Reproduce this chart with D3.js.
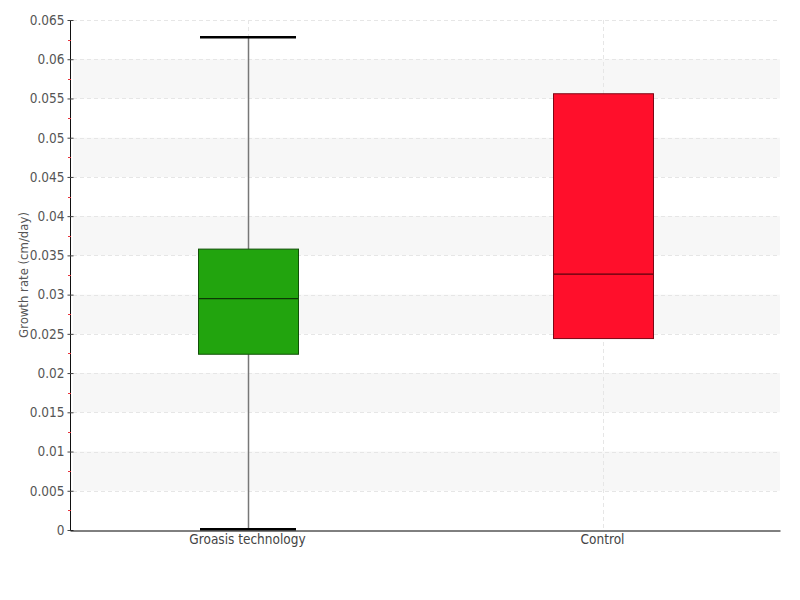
<!DOCTYPE html>
<html>
<head>
<meta charset="utf-8">
<script src="https://cdn.jsdelivr.net/npm/d3@7"></script>
<style>
  body { margin: 0; background: #fff; }
  text { font-family: "DejaVu Sans Condensed", "Liberation Sans Narrow", "Roboto", sans-serif; }
</style>
</head>
<body>
<svg id="chart" width="800" height="600"></svg>
<script>
// data
var categories = ["Groasis technology", "Control"];
var minValues = [0.0001, 0.0244];
var q1Values = [0.0224, 0.0244];
var medianValues = [0.0295, 0.0326];
var q3Values = [0.0358, 0.0556];
var maxValues = [0.0628, 0.0556];
var boxColors = ["#22a40e", "#ff0f2b"];
var yTicks = [0, 0.005, 0.01, 0.015, 0.02, 0.025, 0.03, 0.035, 0.04, 0.045, 0.05, 0.055, 0.06, 0.065];

var svg = d3.select("#chart");
var mLeft = 70, mRight = 780, mTop = 20, mBottom = 530;

var x = d3.scaleBand().domain(categories).range([mLeft, mRight]);
var y = d3.scaleLinear().domain([0, 0.065]).range([mBottom, mTop]);

// alternating bands
var bands = [];
for (var i = 1; i < yTicks.length - 1; i += 2) bands.push([yTicks[i], yTicks[i + 1]]);
svg.append("g").selectAll("rect").data(bands).enter().append("rect")
    .attr("x", mLeft + 3).attr("width", mRight - mLeft - 3)
    .attr("y", function (d) { return y(d[1]); })
    .attr("height", function (d) { return y(d[0]) - y(d[1]); })
    .attr("fill", "#f7f7f7");

// grid lines
svg.append("g").selectAll("line").data(yTicks.slice(1)).enter().append("line")
    .attr("x1", mLeft + 3).attr("x2", mRight - 3)
    .attr("y1", function (d) { return Math.round(y(d)) + 0.5; })
    .attr("y2", function (d) { return Math.round(y(d)) + 0.5; })
    .attr("stroke", "#e6e6e6").attr("stroke-dasharray", "4,3");
svg.append("g").selectAll("line").data(categories).enter().append("line")
    .attr("x1", function (d) { return Math.round(x(d) + x.bandwidth() / 2) + 0.5; })
    .attr("x2", function (d) { return Math.round(x(d) + x.bandwidth() / 2) + 0.5; })
    .attr("y1", mTop).attr("y2", mBottom)
    .attr("stroke", "#e6e6e6").attr("stroke-dasharray", "4,3");

// y axis
var yAxis = svg.append("g").attr("transform", "translate(" + (mLeft + 0.5) + ",0)")
    .call(d3.axisLeft(y).tickValues(yTicks).tickSize(3).tickPadding(3)
        .tickFormat(function (d) { return d3.format("~g")(+d.toFixed(3)); }));
yAxis.select(".domain").attr("stroke", "#111").attr("d", "M0," + mTop + "V" + mBottom);
yAxis.selectAll(".tick line").attr("stroke", "#444").attr("x2", 3).attr("x1", -3);
yAxis.selectAll(".tick text").attr("fill", "#555").style("font-size", "13.5px");

// minor red ticks
var minor = yTicks.slice(0, -1).map(function (d) { return d + 0.0025; });
svg.append("g").selectAll("line").data(minor).enter().append("line")
    .attr("x1", mLeft - 2).attr("x2", mLeft + 1)
    .attr("y1", function (d) { return Math.round(y(d)) + 0.5; })
    .attr("y2", function (d) { return Math.round(y(d)) + 0.5; })
    .attr("stroke", "#e8343c");

// x axis
var xAxis = svg.append("g").attr("transform", "translate(0," + (mBottom + 0.5) + ")")
    .call(d3.axisBottom(x).tickSize(0).tickPadding(4));
xAxis.select(".domain").attr("stroke", "#000");
xAxis.selectAll(".tick text").attr("fill", "#444").style("font-size", "13.5px");

// y label
svg.append("text")
    .attr("transform", "translate(28," + ((mTop + mBottom) / 2) + ") rotate(-90)")
    .attr("text-anchor", "middle")
    .attr("fill", "#555").style("font-size", "13px")
    .text("Growth rate (cm/day)");

// boxes
var boxW = 100;
var boxes = svg.append("g").selectAll("g").data(categories).enter().append("g");
boxes.each(function (d, i) {
    var g = d3.select(this);
    var cx = Math.round(x(d) + x.bandwidth() / 2);
    if (maxValues[i] > q3Values[i]) {
        g.append("line").attr("x1", cx + 0.5).attr("x2", cx + 0.5)
            .attr("y1", y(q3Values[i])).attr("y2", y(maxValues[i]))
            .attr("stroke", "#777").attr("stroke-width", 1.5);
        g.append("line").attr("x1", cx - 48).attr("x2", cx + 48)
            .attr("y1", y(maxValues[i])).attr("y2", y(maxValues[i]))
            .attr("stroke", "#000").attr("stroke-width", 2.5);
    }
    if (minValues[i] < q1Values[i]) {
        g.append("line").attr("x1", cx + 0.5).attr("x2", cx + 0.5)
            .attr("y1", y(q1Values[i])).attr("y2", y(minValues[i]))
            .attr("stroke", "#777").attr("stroke-width", 1.5);
        g.append("line").attr("x1", cx - 48).attr("x2", cx + 48)
            .attr("y1", y(minValues[i])).attr("y2", y(minValues[i]))
            .attr("stroke", "#000").attr("stroke-width", 2.5);
    }
    g.append("rect")
        .attr("x", cx - boxW / 2 + 0.5).attr("width", boxW)
        .attr("y", y(q3Values[i])).attr("height", y(q1Values[i]) - y(q3Values[i]))
        .attr("fill", boxColors[i])
        .attr("stroke", d3.color(boxColors[i]).darker(2)).attr("stroke-width", 1);
    g.append("line").attr("x1", cx - boxW / 2 + 1).attr("x2", cx + boxW / 2)
        .attr("y1", y(medianValues[i])).attr("y2", y(medianValues[i]))
        .attr("stroke", d3.color(boxColors[i]).darker(3)).attr("stroke-width", 1.2);
});
</script>
</body>
</html>
